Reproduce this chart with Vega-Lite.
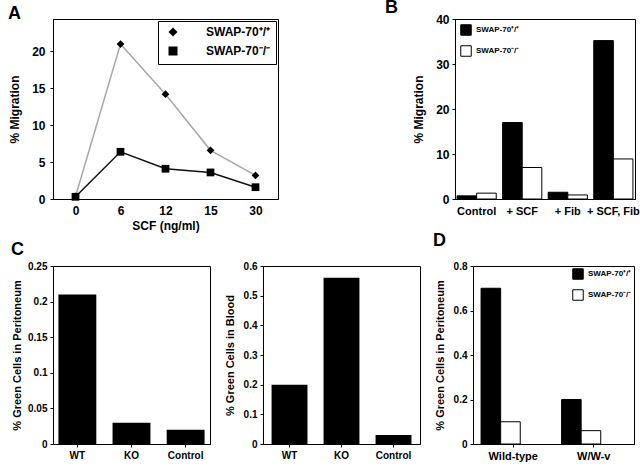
{
  "$schema": "https://vega.github.io/schema/vega-lite/v6.json",
  "padding": {"left": 7, "top": -2, "right": 0, "bottom": 0},
  "background": "white",
  "datasets": {
    "a": [
      {"scf": "0", "g": "SWAP-70⁺/⁺", "v": 0.35},
      {"scf": "6", "g": "SWAP-70⁺/⁺", "v": 21.0},
      {"scf": "12", "g": "SWAP-70⁺/⁺", "v": 14.2},
      {"scf": "15", "g": "SWAP-70⁺/⁺", "v": 6.6},
      {"scf": "30", "g": "SWAP-70⁺/⁺", "v": 3.2},
      {"scf": "0", "g": "SWAP-70⁻/⁻", "v": 0.3},
      {"scf": "6", "g": "SWAP-70⁻/⁻", "v": 6.4},
      {"scf": "12", "g": "SWAP-70⁻/⁻", "v": 4.1},
      {"scf": "15", "g": "SWAP-70⁻/⁻", "v": 3.6},
      {"scf": "30", "g": "SWAP-70⁻/⁻", "v": 1.6}
    ],
    "b": [
      {"c": "Control", "g": "SWAP-70⁺/⁺", "v": 0.7},
      {"c": "Control", "g": "SWAP-70⁻/⁻", "v": 1.3},
      {"c": "+ SCF", "g": "SWAP-70⁺/⁺", "v": 17.0},
      {"c": "+ SCF", "g": "SWAP-70⁻/⁻", "v": 7.0},
      {"c": "+ Fib", "g": "SWAP-70⁺/⁺", "v": 1.5},
      {"c": "+ Fib", "g": "SWAP-70⁻/⁻", "v": 0.9},
      {"c": "+ SCF, Fib", "g": "SWAP-70⁺/⁺", "v": 35.2},
      {"c": "+ SCF, Fib", "g": "SWAP-70⁻/⁻", "v": 8.9}
    ],
    "c1": [
      {"c": "WT", "v": 0.21},
      {"c": "KO", "v": 0.03},
      {"c": "Control", "v": 0.02}
    ],
    "c2": [
      {"c": "WT", "v": 0.2},
      {"c": "KO", "v": 0.56},
      {"c": "Control", "v": 0.03}
    ],
    "d": [
      {"c": "Wild-type", "g": "SWAP-70⁺/⁺", "v": 0.7},
      {"c": "Wild-type", "g": "SWAP-70⁻/⁻", "v": 0.1},
      {"c": "W/W-v", "g": "SWAP-70⁺/⁺", "v": 0.2},
      {"c": "W/W-v", "g": "SWAP-70⁻/⁻", "v": 0.06}
    ]
  },
  "config": {
    "font": "Liberation Sans",
    "view": {"stroke": "black", "strokeWidth": 1},
    "axis": {
      "grid": false,
      "domainColor": "black",
      "tickColor": "black",
      "labelColor": "black",
      "titleColor": "black",
      "labelFont": "Liberation Sans",
      "titleFont": "Liberation Sans",
      "labelFontWeight": "bold",
      "titleFontWeight": "bold",
      "labelFontSize": 11,
      "titleFontSize": 11,
      "tickSize": 3,
      "labelPadding": 3
    },
    "legend": {
      "labelFont": "Liberation Sans",
      "labelFontWeight": "bold",
      "labelColor": "black"
    },
    "title": {
      "font": "Liberation Sans",
      "fontSize": 18,
      "fontWeight": "bold",
      "color": "black",
      "anchor": "start",
      "frame": "group",
      "baseline": "alphabetic"
    }
  },
  "spacing": -1,
  "resolve": {
    "scale": {"fill": "independent", "shape": "independent", "color": "independent"},
    "legend": {"fill": "independent", "shape": "independent", "color": "independent"}
  },
  "vconcat": [
    {
      "bounds": "flush",
      "spacing": 177,
      "resolve": {
        "scale": {"fill": "independent", "shape": "independent", "color": "independent"},
        "legend": {"fill": "independent", "shape": "independent", "color": "independent"}
      },
      "hconcat": [
        {
          "title": {"text": "A", "dx": -45, "offset": -4},
          "width": 225,
          "height": 180,
          "data": {"name": "a"},
          "encoding": {
            "x": {
              "field": "scf",
              "type": "ordinal",
              "sort": ["0", "6", "12", "15", "30"],
              "scale": {"type": "point", "padding": 0.5},
              "axis": {"labelAngle": 0, "ticks": false, "labelPadding": 6, "labelFontSize": 12, "title": "SCF (ng/ml)", "titleFontSize": 12, "titlePadding": 4}
            },
            "y": {
              "field": "v",
              "type": "quantitative",
              "scale": {"domain": [0, 24.4], "nice": false},
              "axis": {"values": [0, 5, 10, 15, 20], "labelFontSize": 12, "labelPadding": 5, "title": "% Migration", "titleFontSize": 12, "titlePadding": 10}
            }
          },
          "layer": [
            {
              "transform": [{"filter": "datum.g == 'SWAP-70⁺/⁺'"}],
              "mark": {"type": "line", "strokeWidth": 1.5, "color": "#a8a8a8"},
              "encoding": {}
            },
            {
              "transform": [{"filter": "datum.g == 'SWAP-70⁻/⁻'"}],
              "mark": {"type": "line", "strokeWidth": 1.5, "color": "#111111"},
              "encoding": {}
            },
            {
              "mark": {"type": "point", "filled": true, "color": "black", "opacity": 1},
              "encoding": {
                "shape": {
                  "field": "g",
                  "type": "nominal",
                  "scale": {"domain": ["SWAP-70⁺/⁺", "SWAP-70⁻/⁻"], "range": ["diamond", "square"]},
                  "legend": {
                    "title": null,
                    "orient": "top-right",
                    "offset": 2,
                    "padding": 5,
                    "strokeColor": "black",
                    "fillColor": "white",
                    "labelFontSize": 12,
                    "symbolFillColor": "black",
                    "symbolStrokeColor": "black",
                    "symbolSize": 81,
                    "symbolOffset": 4,
                    "labelOffset": 27,
                    "rowPadding": 3
                  }
                },
                "size": {"value": 60}
              }
            }
          ]
        },
        {
          "title": {"text": "B", "dx": -70, "offset": -4},
          "width": 180,
          "height": 180,
          "data": {"name": "b"},
          "mark": {"type": "bar", "stroke": "black", "strokeWidth": 1},
          "encoding": {
            "x": {
              "field": "c",
              "type": "nominal",
              "sort": ["Control", "+ SCF", "+ Fib", "+ SCF, Fib"],
              "scale": {"paddingInner": 0.14, "paddingOuter": 0.045},
              "axis": {"labelAngle": 0, "title": null, "labelFontSize": 11, "ticks": false, "labelPadding": 6}
            },
            "xOffset": {"field": "g", "type": "nominal", "sort": ["SWAP-70⁺/⁺", "SWAP-70⁻/⁻"]},
            "y": {
              "field": "v",
              "type": "quantitative",
              "scale": {"domain": [0, 40], "nice": false},
              "axis": {"values": [0, 10, 20, 30, 40], "labelFontSize": 12, "title": "% Migration", "titleFontSize": 12, "titlePadding": 10}
            },
            "fill": {
              "field": "g",
              "type": "nominal",
              "scale": {"domain": ["SWAP-70⁺/⁺", "SWAP-70⁻/⁻"], "range": ["black", "white"]},
              "legend": {
                "title": null,
                "orient": "top-left",
                "offset": 5,
                "labelFontSize": 8,
                "symbolType": "square",
                "symbolSize": 110,
                "symbolStrokeColor": "black",
                "symbolStrokeWidth": 1,
                "rowPadding": 5
              }
            }
          }
        }
      ]
    },
    {
      "bounds": "flush",
      "spacing": 53,
      "resolve": {
        "scale": {"fill": "independent", "shape": "independent", "color": "independent"},
        "legend": {"fill": "independent", "shape": "independent", "color": "independent"}
      },
      "hconcat": [
        {
          "title": {"text": "C", "dx": -42, "offset": 2},
          "width": 157,
          "height": 178,
          "data": {"name": "c1"},
          "mark": {"type": "bar", "color": "black"},
          "encoding": {
            "x": {
              "field": "c",
              "type": "nominal",
              "sort": ["WT", "KO", "Control"],
              "scale": {"paddingInner": 0.3, "paddingOuter": 0.1},
              "axis": {"labelAngle": 0, "title": null, "labelFontSize": 10}
            },
            "y": {
              "field": "v",
              "type": "quantitative",
              "scale": {"domain": [0, 0.25], "nice": false},
              "axis": {"values": [0, 0.05, 0.1, 0.15, 0.2, 0.25], "format": "~g", "labelFontSize": 10, "title": "% Green Cells in Peritoneum", "titlePadding": 5}
            }
          }
        },
        {
          "width": 157,
          "height": 178,
          "data": {"name": "c2"},
          "mark": {"type": "bar", "color": "black"},
          "encoding": {
            "x": {
              "field": "c",
              "type": "nominal",
              "sort": ["WT", "KO", "Control"],
              "scale": {"paddingInner": 0.31, "paddingOuter": 0.165},
              "axis": {"labelAngle": 0, "title": null, "labelFontSize": 10}
            },
            "y": {
              "field": "v",
              "type": "quantitative",
              "scale": {"domain": [0, 0.6], "nice": false},
              "axis": {"values": [0, 0.1, 0.2, 0.3, 0.4, 0.5, 0.6], "format": "~g", "labelFontSize": 10, "title": "% Green Cells in Blood", "titlePadding": 8}
            }
          }
        },
        {
          "title": {"text": "D", "dx": -40, "offset": 11},
          "width": 161,
          "height": 178,
          "data": {"name": "d"},
          "mark": {"type": "bar", "stroke": "black", "strokeWidth": 1},
          "encoding": {
            "x": {
              "field": "c",
              "type": "nominal",
              "sort": ["Wild-type", "W/W-v"],
              "scale": {"paddingInner": 0.2, "paddingOuter": 0.1},
              "axis": {"labelAngle": 0, "title": null, "labelFontSize": 11}
            },
            "xOffset": {"field": "g", "type": "nominal", "sort": ["SWAP-70⁺/⁺", "SWAP-70⁻/⁻"]},
            "y": {
              "field": "v",
              "type": "quantitative",
              "scale": {"domain": [0, 0.8], "nice": false},
              "axis": {"values": [0, 0.2, 0.4, 0.6, 0.8], "format": "~g", "labelFontSize": 10, "title": "% Green Cells in Peritoneum", "titlePadding": 8}
            },
            "fill": {
              "field": "g",
              "type": "nominal",
              "scale": {"domain": ["SWAP-70⁺/⁺", "SWAP-70⁻/⁻"], "range": ["black", "white"]},
              "legend": {
                "title": null,
                "orient": "top-right",
                "offset": 2,
                "labelFontSize": 8,
                "symbolType": "square",
                "symbolSize": 110,
                "symbolStrokeColor": "black",
                "symbolStrokeWidth": 1,
                "rowPadding": 5
              }
            }
          }
        }
      ]
    }
  ]
}
